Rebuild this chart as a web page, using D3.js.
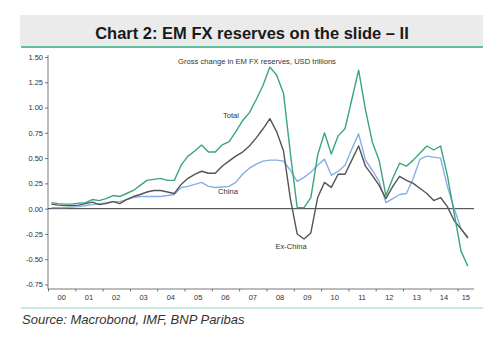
<!DOCTYPE html>
<html><head><meta charset="utf-8">
<script src="https://cdn.jsdelivr.net/npm/d3@7"></script>
<style>body{margin:0;background:#fff;}svg{display:block;font-family:"Liberation Sans",Arial,sans-serif;}</style>
</head><body>
<script>
// Quarterly data 2000Q1 .. 2015Q2, USD trillions
const startYear = 2000;
const total = [0.06,0.05,0.045,0.045,0.055,0.06,0.09,0.08,0.10,0.13,0.12,0.15,0.18,0.23,0.28,0.29,
  0.30,0.28,0.28,0.43,0.52,0.57,0.63,0.56,0.56,0.63,0.66,0.76,0.87,0.95,1.08,1.22,
  1.40,1.32,1.14,0.55,0.01,0.01,0.11,0.53,0.75,0.54,0.72,0.79,1.08,1.37,0.98,0.66,
  0.48,0.13,0.30,0.45,0.42,0.48,0.55,0.62,0.58,0.62,0.33,-0.05,-0.42,-0.57];
const china = [0.01,0.01,0.01,0.015,0.02,0.03,0.04,0.05,0.06,0.07,0.07,0.09,0.11,0.12,0.12,0.12,
  0.12,0.13,0.14,0.21,0.22,0.24,0.26,0.22,0.21,0.215,0.22,0.26,0.34,0.40,0.44,0.47,
  0.48,0.48,0.47,0.38,0.27,0.31,0.36,0.43,0.49,0.33,0.37,0.43,0.59,0.74,0.48,0.38,
  0.27,0.06,0.10,0.14,0.15,0.30,0.49,0.52,0.51,0.50,0.22,0.0,-0.20,-0.28];
const exChina = [0.045,0.035,0.03,0.03,0.035,0.05,0.065,0.04,0.05,0.07,0.05,0.09,0.12,0.14,0.165,0.18,
  0.18,0.165,0.15,0.24,0.30,0.34,0.37,0.35,0.35,0.42,0.47,0.52,0.56,0.62,0.70,0.79,
  0.89,0.76,0.57,0.10,-0.25,-0.30,-0.24,0.11,0.26,0.21,0.34,0.34,0.48,0.62,0.42,0.33,
  0.23,0.10,0.22,0.32,0.28,0.25,0.20,0.15,0.08,0.11,0.02,-0.12,-0.20,-0.29];
const yTicks = [1.5,1.25,1.0,0.75,0.5,0.25,0,-0.25,-0.5,-0.75];
const xLabels = ["00","01","02","03","04","05","06","07","08","09","10","11","12","13","14","15"];
const seriesNames = ["Total","China","Ex-China"];

const W=500,H=349;
const svg=d3.select("body").append("svg").attr("width",W).attr("height",H);

// Title banner
svg.append("rect").attr("x",20).attr("y",15).attr("width",463).attr("height",31).attr("fill","#ebebeb");
svg.append("line").attr("x1",21).attr("x2",483).attr("y1",47).attr("y2",47).attr("stroke","#5fbf9f").attr("stroke-width",2);
svg.append("text").attr("x",252).attr("y",38.5).attr("text-anchor","middle")
  .attr("font-size",16.5).attr("font-weight","bold").attr("fill","#1a1a1a")
  .text("Chart 2: EM FX reserves on the slide – II");

const x=d3.scaleLinear().domain([2000,2015.6]).range([48,474]);
const y=d3.scaleLinear().domain([-0.75,1.5]).range([284.5,57]);
const xq=i=>x(startYear+(i+0.5)/4);

// Y axis
const yAxis=d3.axisLeft(y).tickValues(yTicks).tickFormat(d3.format(".2f")).tickSize(3).tickPadding(2);
const gy=svg.append("g").attr("transform","translate(48,0)").call(yAxis);
gy.select(".domain").remove();
gy.append("line").attr("x1",0).attr("x2",0).attr("y1",55).attr("y2",289).attr("stroke","#555").attr("stroke-width",0.8);
gy.selectAll(".tick line").attr("stroke","#555").attr("stroke-width",0.8);
gy.selectAll(".tick text").attr("font-size",7.5).attr("fill","#333").attr("font-family","Liberation Sans,Arial,sans-serif")
  .text(d=>d3.format(".2f")(d).replace("−","-"));

// X axis
const gx=svg.append("g").attr("transform","translate(0,289)");
const xAxis=d3.axisBottom(x).tickValues(d3.range(2000,2016)).tickSize(2.5).tickFormat("");
gx.call(xAxis);
gx.select(".domain").remove();
gx.append("line").attr("x1",48).attr("x2",474).attr("stroke","#555").attr("stroke-width",0.8);
gx.selectAll(".tick line").attr("stroke","#555").attr("stroke-width",0.8);
gx.selectAll(".xl").data(xLabels).enter().append("text").attr("class","xl")
  .attr("x",(d,i)=> i<15 ? x(2000+i+0.5) : (x(2015)+474)/2)
  .attr("y",10.5).attr("text-anchor","middle").attr("font-size",7.5).attr("fill","#333").text(d=>d);

// Zero line
svg.append("line").attr("x1",48).attr("x2",474).attr("y1",y(0)).attr("y2",y(0)).attr("stroke","#222").attr("stroke-width",0.9);

// Subtitle
svg.append("text").attr("x",257).attr("y",64).attr("text-anchor","middle").attr("font-size",7.6).attr("fill","#333")
  .text("Gross change in EM FX reserves, USD trillions");

const line=d3.line().x((d,i)=>xq(i)).y(d=>y(d));
const series=[{name:"China",vals:china,color:"#86aee6"},{name:"Ex-China",vals:exChina,color:"#555555"},{name:"Total",vals:total,color:"#3aa57c"}];
series.forEach(s=>{
  svg.append("path").datum(s.vals).attr("d",line).attr("fill","none").attr("stroke",s.color).attr("stroke-width",1.4).attr("stroke-linejoin","round");
});

// Series labels
const lab=[{t:seriesNames[0],x:231,y:118},{t:seriesNames[1],x:228,y:194},{t:seriesNames[2],x:291,y:249}];
svg.selectAll(".sl").data(lab).enter().append("text").attr("x",d=>d.x).attr("y",d=>d.y).attr("text-anchor","middle")
  .attr("font-size",7.6).attr("fill","#333").text(d=>d.t);

// Bottom rule and source
svg.append("line").attr("x1",21).attr("x2",483).attr("y1",308).attr("y2",308).attr("stroke","#8fd3bd").attr("stroke-width",1.2);
svg.append("text").attr("x",22).attr("y",324).attr("font-size",13).attr("font-style","italic").attr("fill","#333")
  .text("Source: Macrobond, IMF, BNP Paribas");
</script>
</body></html>
